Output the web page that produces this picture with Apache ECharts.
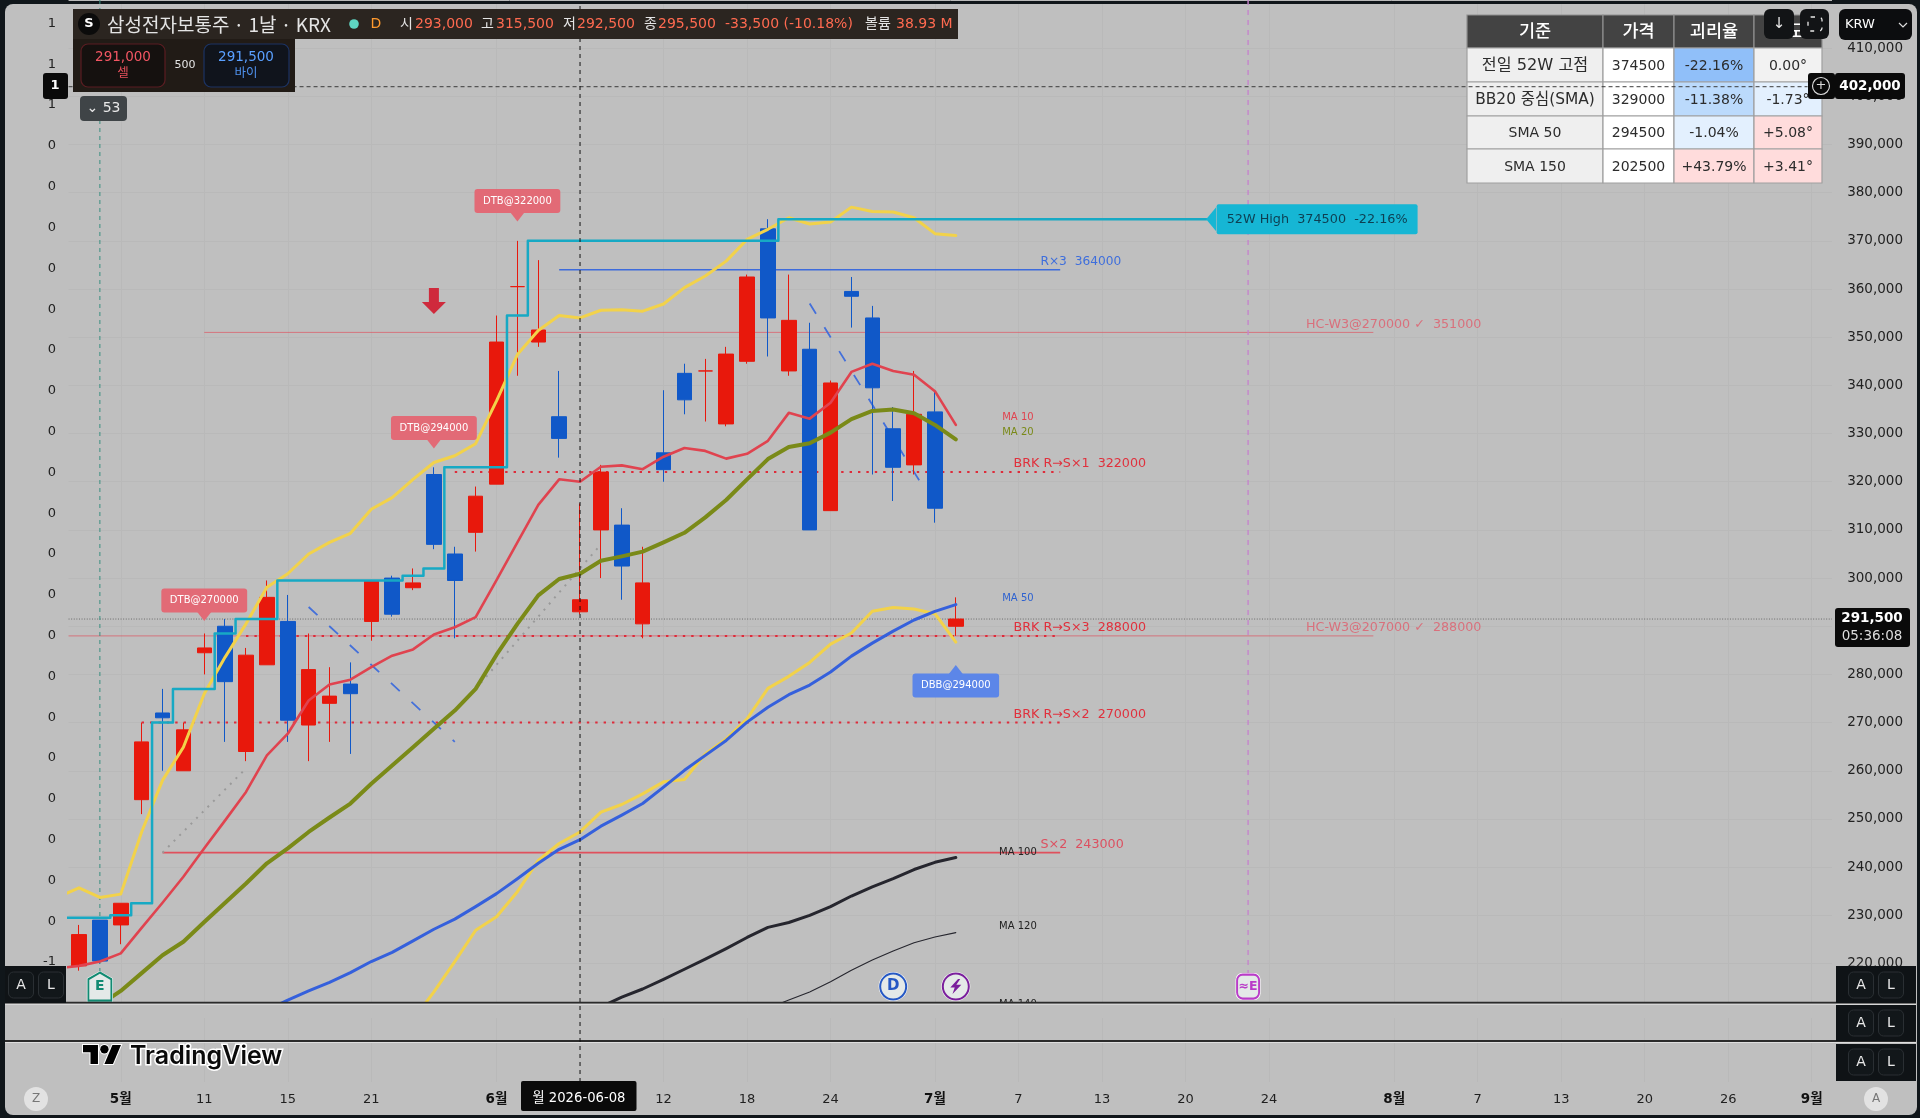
<!DOCTYPE html>
<html lang="ko"><head><meta charset="utf-8"><title>삼성전자보통주</title>
<style>html,body{margin:0;padding:0;background:#10161a;overflow:hidden}#c{width:1920px;height:1118px}</style>
<script src="https://cdn.jsdelivr.net/npm/echarts@6/dist/echarts.min.js"></script></head>
<body><div id="c"></div><script>
// ---- candles, bar 0 .. 42
const candleOpen =[219500,229000,228000,254000,272000,260000,284500,290000,264000,282000,291000,269500,274000,278000,291000,300000,298000,321500,305000,309500,319500,360500,349000,333500,293000,310000,311000,290500,326000,342500,343000,332000,345000,372500,343000,347500,314000,359500,354000,331000,323500,334500,290000];
const candleClose=[226000,220500,232500,266000,271000,268500,285500,278500,284000,296000,270500,281000,275500,276000,299500,292500,299000,307000,299500,317000,349000,360500,351500,329000,295500,322000,302500,299000,322500,337000,343000,346500,362500,354000,353500,310000,340500,358500,339500,323000,334000,314500,291500];
const candleLow  =[218500,220000,224000,251000,260000,260000,280000,266000,262000,282000,266000,262000,266000,263500,287000,292000,297500,306000,287500,305500,319500,342000,348000,325000,292500,300000,295500,287500,320000,334000,332500,331500,344500,346000,342000,310000,314000,352000,321500,316000,321500,311500,288000];
const candleHigh =[228000,229000,232500,270000,277000,270000,288500,291500,285500,299500,296500,288500,281500,282500,299500,300500,302000,323000,306500,319000,354500,370000,366000,343000,315500,323500,314500,306500,339000,344500,345500,348000,363000,374500,363000,353000,341000,362500,356500,335500,343000,339000,296000];
// ---- lines: the number after each name is the bar of its first value
const ma10First=-1;
const ma10=[219000,219500,220400,222100,227400,232600,238000,243900,249700,255600,263200,267700,274600,277900,278900,281500,283900,285200,288300,289800,291900,299600,307400,315200,320500,320000,323100,323400,322600,325200,327000,326400,324800,325800,328500,334300,333100,336400,342800,344500,343000,342200,338800,331800];
const ma20First=0;
const ma20=[209500,211400,214300,218000,221700,224500,228600,232600,236600,240800,243900,247300,250300,253200,257300,261100,264900,268700,272500,277000,284100,290500,296400,299800,300900,303600,304500,305500,307400,309400,312600,316200,320500,324700,327200,328000,330200,333000,334700,335000,334200,331800,328800];
const bbUpperFirst=-1;
const bbUpper=[233800,235700,233700,234400,247300,258000,264900,276000,283600,290500,298100,300900,305000,307400,309300,314300,316700,320500,324000,325400,327900,336800,346400,351400,354500,354000,355600,355700,355400,356900,360300,362700,365800,370300,372400,374800,373500,373900,377000,376100,376000,374800,371500,371100];
const bbLowerFirst=16;
const bbLower=[208300,214100,220400,226900,229700,234900,241400,244900,247300,251400,253000,255200,257700,258200,263500,266600,270800,277100,279600,282500,286300,288600,293100,293900,293600,292600,286700];
const ma50First=8;
const ma50=[208500,210300,212400,214300,216100,218100,220400,222300,224700,227100,229200,231800,234500,237600,240800,243700,245700,248500,250800,253200,256600,260100,263200,266300,270100,273200,275800,277800,280500,283800,286500,289000,291300,293100,294500];
const ma100First=24;
const ma100=[209000,211000,213000,214700,216700,218800,220900,223100,225400,227500,228500,230000,231800,234000,235900,237600,239500,241000,242000];
const ma120First=33;
const ma120=[210700,212400,214100,216200,218600,220700,222600,224300,225500,226400];
const high52First=-1;
const high52=[229500,229500,229500,230000,232500,270000,277000,277000,288500,291500,291500,
  299500,299500,299500,299500,299500,299500,300500,302000,323000,323000,323000,354500,
  370000,370000,370000,370000,370000,370000,370000,370000,370000,370000,370000,370000,
  374500,374500,374500,374500,374500,374500,374500,374500,374500];
const high52EndBar=54;
// ---- axis ticks
const dateTickBars=[2,6,10,14,20,28,32,36,41,45,49,53,57,63,67,71,75,79,83];
const dateTickText=['5월','11','15','21','6월','12','18','24','7월','7','13','20','24','8월','7','13','20','26','9월'];
const leftTickLabels=['-1','0','0','0','0','0','0','0','0','0','0','0','0','0','0','0','0','0','0','0','0','1','1','1'];
// ---- level lines
const levelPrice=[364000,351000,288000,322000,288000,270000,243000];
const levelFrom =[23,6,-0.5,18,8,3,4];
const levelTo   =[47,62,62,47,47,47,47];
const levelText =['R×3  364000','HC-W3@270000 ✓  351000','HC-W3@207000 ✓  288000','BRK R→S×1  322000','BRK R→S×3  288000','BRK R→S×2  270000','S×2  243000'];
const levelTextBar=[46.03,58.75,58.75,44.74,44.74,44.74,46.03];
const lastPrice=291500, crossPrice=402000, crossBar=24;
// ---- diagonal drawings [bar, price, bar, price]
const dottedDiagonals=[[4,243000,8,260500],[19,277000,25,307000]];
const dashedDiagonals=[[11,294000,18,266000],[35,357000,41,315000]];
// ---- tags
const tagText =['DTB@270000','DTB@294000','DTB@322000','DBB@294000'];
const tagBar  =[6,17,21,42];
const tagPrice=[291200,327000,374100,281850];
const arrowBar=17, arrowPrice=357500;
const maTagText =['MA 10','MA 20','MA 50','MA 100','MA 120','MA 140'];
const maTagBar  =[44.2,44.2,44.2,44.05,44.05,44.05];
const maTagPrice=[333300,330200,295800,243150,227600,211400];
const highTagText='52W High  374500  -22.16%', highTagBar=54.47, highTagPrice=374500;
const eventPrice=215200, eventBarE=1, eventBarD=39, eventBarBolt=42, eventBarEst=56;
// ---- table
const tableHead=['기준','가격','괴리율','각도'];
const tableName=['전일 52W 고점','BB20 중심(SMA)','SMA 50','SMA 150'];
const tablePrice=['374500','329000','294500','202500'];
const tableGap=['-22.16%','-11.38%','-1.04%','+43.79%'];
const tableAngle=['0.00°','-1.73°','+5.08°','+3.41°'];

const FONT="'DejaVu Sans','Noto Sans CJK KR',sans-serif";
const RED='#e8180c',BLUE='#1058c8';
const GRID='#b9b9b9';
const series=[];
const run=(arr,first)=>arr.map((v,i)=>[first+i,v]);

function lineS(data,color,width,extra){
  series.push(Object.assign({type:'line',xAxisIndex:0,yAxisIndex:0,data,symbol:'none',silent:true,z:3,
    lineStyle:{color,width,cap:'round',join:'round'},emphasis:{disabled:true}},extra||{}));
}
// levels below candles
const levelColor=['#3d6bdc','rgba(226,70,84,.62)','rgba(226,70,84,.62)','#de2b3a','#de2b3a','#de2b3a','#e0505c'];
const levelWidth=[1.6,1,1,2,2,2,1.8];
const levelType =['solid','solid','solid',[2.4,6],[2.4,6],[2.4,6],'solid'];
levelPrice.forEach((p,i)=>{
  lineS([[levelFrom[i],p],[levelTo[i],p]],levelColor[i],levelWidth[i],{z:1,lineStyle:{color:levelColor[i],width:levelWidth[i],type:levelType[i]}});
});
lineS([[-0.5,lastPrice],[83.97,lastPrice]],'#666',1,{z:1,lineStyle:{color:'#6a6a6a',width:1,type:[1,1.6]}});
dottedDiagonals.forEach(d=>lineS([[d[0],d[1]],[d[2],d[3]]],'#999',2,{z:1,lineStyle:{color:'#9a9a9a',width:2,type:[2,6]}}));
dashedDiagonals.forEach(d=>lineS([[d[0],d[1]],[d[2],d[3]]],'#3f6bd8',1.8,{z:1,lineStyle:{color:'#4470da',width:1.8,type:[12,16]}}));
// event verticals
lineS([[eventBarE,420000],[eventBarE,218000]],'#2f8f7f',1,{z:1,lineStyle:{color:'#3a8f80',width:1,type:[4,4]}});
lineS([[eventBarEst,420000],[eventBarEst,218000]],'#c77fd0',1.4,{z:1,lineStyle:{color:'#c585cc',width:1.4,type:[5,5]}});
// candles
series.push({type:'candlestick',xAxisIndex:0,yAxisIndex:0,z:2,barWidth:15,silent:true,
  data:candleOpen.map((o,i)=>[i,o,candleClose[i],candleLow[i],candleHigh[i]]),
  itemStyle:{color:RED,color0:BLUE,borderColor:RED,borderColor0:BLUE,borderWidth:1}});
// moving averages
lineS(run(ma120,ma120First),'#26262e',1.1);
lineS(run(ma100,ma100First),'#26262e',3);
lineS(run(bbLower,bbLowerFirst),'#f2d24a',3);
lineS(run(bbUpper,bbUpperFirst),'#f2d24a',3);
lineS(run(ma50,ma50First),'#3560dc',3);
lineS(run(ma20,ma20First),'#7a8a18',4);
lineS(run(ma10,ma10First),'#e0434f',2.6);
lineS(run(high52,high52First).concat([[high52EndBar,high52[high52.length-1]]]),'#17a9c4',2.5,{step:'middle',z:4});
// crosshair horizontal & vertical
lineS([[-0.5,crossPrice],[82.8,crossPrice]],'#333',1,{z:40,lineStyle:{color:'#3a3a3a',width:1,type:[4,3]}});
series.push({type:'line',xAxisIndex:1,yAxisIndex:1,data:[[crossBar,0],[crossBar,1]],symbol:'none',silent:true,z:60,
  lineStyle:{color:'#111',width:1,type:[4,4]}});

// text labels through the price scale
const noSym={symbol:'circle',symbolSize:1,itemStyle:{color:'transparent',opacity:1}};
const textColor=['#3e6edc','#d9707c','#d9707c','#e0303c','#e0303c','#e0303c','#dc5060'];
series.push(Object.assign({type:'scatter',xAxisIndex:0,yAxisIndex:0,z:5,silent:true,
  data:levelPrice.map((p,i)=>({value:[levelTextBar[i],p],label:{show:true,position:'right',distance:0,offset:[0,-8],formatter:levelText[i],
    color:textColor[i],fontFamily:FONT,fontSize:i===0?12.2:12.7}}))},noSym));
const maColor=['#e0434f','#7a8a18','#2e62d0','#222','#222','#222'];
series.push(Object.assign({type:'scatter',xAxisIndex:0,yAxisIndex:0,z:5,silent:true,
  data:maTagPrice.map((p,i)=>({value:[maTagBar[i],p],label:{show:true,position:'right',distance:0,formatter:maTagText[i],
    color:maColor[i],fontFamily:FONT,fontSize:10}}))},noSym));
// tags: pointer + box
const tagFill=t=>t.startsWith('DBB')?'#5c86e8':'#e26a76';
series.push({type:'scatter',xAxisIndex:0,yAxisIndex:0,z:6,silent:true,
  data:tagText.map((t,i)=>{const up=t.startsWith('DBB');return {value:[tagBar[i],tagPrice[i]],symbol:'triangle',symbolSize:[14,9],
    symbolRotate:up?0:180,symbolOffset:[0,up?4:-4],itemStyle:{color:tagFill(t),opacity:1}};})});
series.push(Object.assign({type:'scatter',xAxisIndex:0,yAxisIndex:0,z:7,silent:true,
  data:tagText.map((t,i)=>{const up=t.startsWith('DBB');return {value:[tagBar[i],tagPrice[i]],label:{show:true,position:'inside',offset:[0,up?20:-20],
    formatter:t,color:'#fff',fontFamily:FONT,fontSize:10,lineHeight:12,backgroundColor:tagFill(t),padding:[6,8.5],borderRadius:3}};})},noSym));
// 52W tag
series.push({type:'scatter',xAxisIndex:0,yAxisIndex:0,z:6,silent:true,symbol:'triangle',symbolSize:[24,10],symbolRotate:90,symbolOffset:[-5,0],
  data:[[highTagBar,highTagPrice]],itemStyle:{color:'#16b6d4',opacity:1}});
series.push(Object.assign({type:'scatter',xAxisIndex:0,yAxisIndex:0,z:7,silent:true,
  data:[{value:[highTagBar,highTagPrice],label:{show:true,position:'right',distance:0,formatter:highTagText,color:'#0e3f52',fontFamily:FONT,fontSize:12.8,
    lineHeight:14,backgroundColor:'#16b6d4',padding:[8,10],borderRadius:2}}]},noSym));
// red arrow
series.push({type:'scatter',xAxisIndex:0,yAxisIndex:0,z:6,silent:true,data:[[arrowBar,arrowPrice]],
  symbol:'path://M7,0 H17 V14 H24 L12,26 L0,14 H7 Z',symbolSize:[24,26],itemStyle:{color:'#cf2a3c',opacity:1}});
// events
const HOUSE='path://M12,0 L24,7 V30 H0 V7 Z';
function evt(bar,sym,size,color,text,fs){
  series.push({type:'scatter',xAxisIndex:0,yAxisIndex:0,z:8,silent:true,data:[[bar,eventPrice]],symbol:sym,symbolSize:[size[0]+3,size[1]+3],itemStyle:{color:'#fff',opacity:1}});
  series.push({type:'scatter',xAxisIndex:0,yAxisIndex:0,z:9,silent:true,data:[[bar,eventPrice]],symbol:sym,symbolSize:size,
    itemStyle:{color:'#e4e9e8',borderColor:color,borderWidth:2,opacity:1},
    label:{show:!!text,position:'inside',formatter:text||'',color:color,fontFamily:FONT,fontWeight:'bold',fontSize:fs||14}});
}
evt(eventBarE,HOUSE,[23,28],'#128a72','E',14);
evt(eventBarD,'circle',[26,26],'#2558c4','D',15);
evt(eventBarBolt,'circle',[26,26],'#7a1f9c','');
series.push({type:'scatter',xAxisIndex:0,yAxisIndex:0,z:10,silent:true,data:[[eventBarBolt,eventPrice]],
  symbol:'path://M7,0 L0,9 H4 L2,16 L10,6 H5.5 L9,0 Z',symbolSize:[11,15],itemStyle:{color:'#7a1f9c',opacity:1}});
evt(eventBarEst,'roundRect',[22,24],'#b93cc8','≈E',12.5);

// ---------- graphics: chrome of the screenshot
const g=[];
const rect=(x,y,w,h,fill,z,r,stroke,lw)=>g.push({type:'rect',silent:true,z:z,shape:{x,y,width:w,height:h,r:r||0},style:{fill,stroke:stroke||null,lineWidth:lw||0}});
const txt=(x,y,t,o)=>{o=o||{};g.push({type:'text',silent:true,z:o.z||72,x,y,style:Object.assign({text:t,fill:o.c||'#fff',font:(o.w||'normal')+' '+(o.s||14)+'px '+(o.f||FONT),textAlign:o.a||'center',textVerticalAlign:'middle'},o.st||{})});};
rect(5,4,1912,1111,'#bfbfbf',-1,8);
rect(5,1003,1911,15,'#bfbfbf',50);
// separators
[1002.7,1041].forEach(y=>{rect(5,y-1,1911,2,'#2b2b2b',55);rect(5,y+1,1911,1,'#dedede',55);});
// table
const colX=[1467,1603,1674,1754,1822], rowY=[15,48,82,116,149,183];
const gapFill=['#90bff9','#bbdafc','#e3f0fe','#ffdcdc'];
const angleFill=['#f2f2f2','#e3f0fe','#ffdcdc','#ffdcdc'];
for(let c=0;c<4;c++){
  const cx=(colX[c]+colX[c+1])/2;
  rect(colX[c],rowY[0],colX[c+1]-colX[c],rowY[1]-rowY[0],'#434343',30,0,'#8f8f8f',1.2);
  txt(cx,(rowY[0]+rowY[1])/2+.5,tableHead[c],{z:31,s:17.5,c:'#fff',w:'500'});
}
const nameSize=[16.2,15.4,14,14];
for(let r=0;r<4;r++){
  const cols=[tableName[r],tablePrice[r],tableGap[r],tableAngle[r]];
  const fills=['#efefef','#ffffff',gapFill[r],angleFill[r]];
  for(let c=0;c<4;c++){
    rect(colX[c],rowY[r+1],colX[c+1]-colX[c],rowY[r+2]-rowY[r+1],fills[c],30,0,'#a0a0a0',1.2);
    txt((colX[c]+colX[c+1])/2,(rowY[r+1]+rowY[r+2])/2+1,cols[c],{z:31,s:c===0?nameSize[r]:14,c:'#2c2c2c'});
  }
}
// top-right buttons
rect(1764,9,30,30,'#121416',70,6); txt(1779,24,'↓',{s:15,c:'#e8e8e8'});
rect(1800,9,29,30,'#121416',70,6);
g.push({type:'rect',silent:true,z:71,shape:{x:1808,y:17,width:14,height:14,r:3},style:{fill:null,stroke:'#e8e8e8',lineWidth:1.3,lineDash:[4,6]}});
rect(1839,9,73,31,'#0c0d0f',70,6); txt(1845,24.5,'KRW',{s:13,a:'left'});
g.push({type:'polyline',silent:true,z:72,shape:{points:[[1899,23],[1903,27],[1907,23]]},style:{stroke:'#ddd',fill:null,lineWidth:1.2}});
// crosshair price boxes
rect(1808,73,27,26,'#0a0a0a',70,3);
g.push({type:'circle',silent:true,z:71,shape:{cx:1821,cy:86,r:8.5},style:{fill:null,stroke:'#ddd',lineWidth:1.1}});
txt(1821,85.5,'+',{s:13,c:'#ddd'});
rect(1835,73,70,26,'#0a0a0a',70,3); txt(1870,86,'402,000',{s:13.5,w:'bold'});
rect(1835,608,75,39,'#0a0a0a',70,3); txt(1872,618.5,'291,500',{s:13.5,w:'bold'}); txt(1872,636.5,'05:36:08',{s:13.5,c:'#ddd'});
rect(43,73,25,26,'#0a0a0a',70,3); txt(55,86,'1',{s:13,w:'bold'});
// header
rect(73,9,885,30,'#2b2520',64); rect(73,39,222,53,'#211b16',64);
g.push({type:'circle',silent:true,z:71,shape:{cx:89,cy:24,r:11},style:{fill:'#0b0b0b'}});
txt(89,24,'S',{s:13,w:'bold'});
txt(107,24.5,'삼성전자보통주 · 1날 · KRX',{s:19,a:'left',c:'#e4e4e4',f:"'Noto Sans CJK KR',sans-serif"});
g.push({type:'circle',silent:true,z:71,shape:{cx:354,cy:24,r:4.8},style:{fill:'#5fd6c2'}});
txt(376,24.5,'D',{s:14,c:'#ff9a2e'});
const ORANGE='#ff6a50',LBL='#e4e4e4';
[[400,'시',LBL],[415,'293,000',ORANGE],[481,'고',LBL],[496,'315,500',ORANGE],[563,'저',LBL],[577,'292,500',ORANGE],[644,'종',LBL],[658,'295,500',ORANGE],[725,'-33,500 (-10.18%)',ORANGE],[865,'볼륨',LBL],[896,'38.93 M',ORANGE]]
 .forEach(a=>txt(a[0],24.5,a[1],{s:14,a:'left',c:a[2]}));
rect(81,44,84,43,'#15110f',70,7,'#5a1d22',1.2); rect(204,44,85,43,'#10141c',70,7,'#1c3363',1.2);
txt(123,57.5,'291,000',{s:13.5,c:'#f25663',w:'500'}); txt(123,74,'셀',{s:12.5,c:'#e8505c'});
txt(185,65,'500',{s:11,c:'#e4e4e4'});
txt(246,57.5,'291,500',{s:13.5,c:'#5aa0ff',w:'500'}); txt(246,74,'바이',{s:12.5,c:'#4f92ee'});
rect(80,96,47,25,'#3f4447',70,4); txt(103.5,108.5,'⌄ 53',{s:14,c:'#e8e8e8'});
// A / L boxes
function al(bx,by,bw,bh,ax,lx,cy){
  rect(bx,by,bw,bh,'#0f1316',70);
  rect(ax-12.5,cy-13,25,26,'#12171a',71,5,'#2a2f33',1); rect(lx-12.5,cy-13,25,26,'#12171a',71,5,'#2a2f33',1);
  txt(ax,cy,'A',{s:14,c:'#e8e8e8'}); txt(lx,cy,'L',{s:14,c:'#e8e8e8'});
}
al(5,966,61,37,21,51,985);
al(1836,966,80,37,1861,1891,985); al(1836,1005,80,36,1861,1891,1023); al(1836,1044,80,37,1861,1891,1062);
// date box + corner circles
rect(521,1081,115.5,30,'#0a0a0a',70,2); txt(579,1099,'월 2026-06-08',{s:13.2});
g.push({type:'circle',silent:true,z:70,shape:{cx:36,cy:1099,r:12},style:{fill:'#e2e2e2'}}); txt(36,1099,'Z',{s:12,c:'#777'});
g.push({type:'circle',silent:true,z:70,shape:{cx:1876,cy:1099,r:12},style:{fill:'#e2e2e2'}}); txt(1876,1099,'A',{s:12,c:'#777'});
// TradingView logo
const LX=83,LY=1040.8,SX=1.07,SY=1.05,lp=pts=>pts.map(p=>[LX+p[0]*SX,LY+p[1]*SY]);
const lg={fill:'#000',stroke:'#fff',lineWidth:2,strokeFirst:true};
g.push({type:'polygon',silent:true,z:65,shape:{points:lp([[0,4],[14,4],[14,22],[7,22],[7,11],[0,11]])},style:lg});
g.push({type:'polygon',silent:true,z:65,shape:{points:lp([[20,22],[27.5,4],[35.5,4],[28,22]])},style:lg});
g.push({type:'circle',silent:true,z:65,shape:{cx:LX+20*SX,cy:LY+8*SY,r:4.2},style:lg});
txt(130,1056,'TradingView',{z:65,s:25,a:'left',c:'#0a0a0a',w:'600',f:"Inter,'Noto Sans',sans-serif",st:{stroke:'#fff',lineWidth:3,strokeFirst:true}});

const cats=new Array(84).fill('');
dateTickBars.forEach((b,i)=>cats[b]=dateTickText[i]);

const option={
 animation:false,
 textStyle:{fontFamily:FONT},
 grid:[
  {left:68.56,width:1763.44,top:-1.6,height:1013.25},
  {left:79,width:1732.7,top:4,height:1078},
  {left:58,width:5,top:23.5,height:979.3}
 ],
 xAxis:[
  {gridIndex:0,type:'value',min:-0.5,max:83.97,show:false,splitLine:{show:false}},
  {gridIndex:1,type:'category',boundaryGap:false,data:cats,
   axisLine:{show:false},axisTick:{show:false},
   splitLine:{show:true,interval:(i,v)=>!!v,lineStyle:{color:GRID,width:1}},
   axisLabel:{show:true,interval:0,margin:11,color:'#1f1f1f',fontFamily:FONT,fontSize:13,
     formatter:v=>v.indexOf('월')>=0?`{m|${v}}`:v,rich:{m:{fontWeight:'bold',fontSize:13.5,color:'#111'}}}},
  {gridIndex:2,type:'value',min:0,max:1,show:false,splitLine:{show:false}}
 ],
 yAxis:[
  {gridIndex:0,type:'value',min:210000,max:420000,interval:10000,position:'right',
   axisLine:{show:false},axisTick:{show:false},splitLine:{show:true,lineStyle:{color:GRID,width:1}},
   axisLabel:{margin:71,align:'right',color:'#222',fontFamily:FONT,fontSize:13.5,showMinLabel:false,showMaxLabel:false,
     formatter:v=>v.toLocaleString('en-US')}},
  {gridIndex:1,type:'value',min:0,max:1,show:false,splitLine:{show:false}},
  {gridIndex:2,type:'value',min:-1,max:23,interval:1,position:'left',
   axisLine:{show:false},axisTick:{show:false},splitLine:{show:false},
   axisLabel:{margin:2,align:'right',color:'#222',fontFamily:FONT,fontSize:13,
     formatter:v=>leftTickLabels[v]===undefined?'':leftTickLabels[v]}}
 ],
 graphic:{elements:g},
 series
};
const chart=echarts.init(document.getElementById('c'),null,{renderer:'canvas',width:1920,height:1118});
chart.setOption(option);
</script></body></html>
